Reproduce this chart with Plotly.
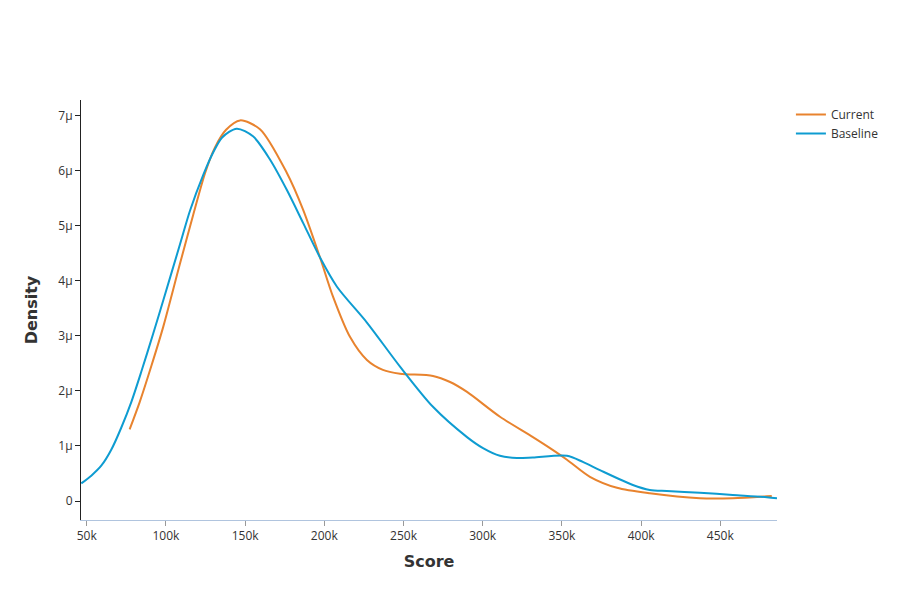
import plotly.graph_objects as go

# Baseline density curve (score in thousands, density in micro-units)
baseline_score_k = [46.6, 52.9, 59.2, 65.5, 71.8, 78.2, 84.5, 92.0, 98.4, 108.9, 115.2, 123.6,
                    129.9, 135.5, 144.7, 155.0, 165.7, 176.3, 186.6, 197.3, 208.0, 226.9,
                    247.8, 268.6, 290.1, 300.2, 310.9, 321.6, 331.7, 353.2, 363.2, 374.0,
                    394.8, 405.5, 416.2, 437.1, 457.9, 479.4, 485.8]
baseline_density_u = [0.32, 0.46, 0.64, 0.93, 1.33, 1.80, 2.35, 3.04, 3.65, 4.66, 5.27, 5.92,
                      6.33, 6.60, 6.76, 6.62, 6.20, 5.65, 5.05, 4.42, 3.89, 3.24,
                      2.44, 1.71, 1.16, 0.96, 0.82, 0.78, 0.79, 0.82, 0.71, 0.56,
                      0.29, 0.20, 0.18, 0.15, 0.11, 0.07, 0.05]

# Current density curve
current_score_k = [77.1, 83.5, 90.8, 98.4, 108.9, 117.3, 124.7, 131.0, 138.0, 146.8, 159.4,
                   176.3, 186.6, 197.3, 205.5, 216.2, 226.9, 237.0, 247.8, 268.6, 279.4,
                   290.1, 310.9, 331.7, 342.5, 353.2, 367.7, 384.8, 405.5, 437.1, 457.9, 482.5]
current_density_u = [1.30, 1.80, 2.45, 3.17, 4.31, 5.20, 5.95, 6.42, 6.74, 6.91, 6.75,
                     5.96, 5.29, 4.42, 3.71, 2.98, 2.56, 2.38, 2.31, 2.27, 2.16,
                     1.98, 1.53, 1.16, 0.96, 0.75, 0.44, 0.24, 0.14, 0.05, 0.05, 0.09]

series_names = ["Current", "Baseline"]
series_colors = ["#E8832E", "#0E9CD1"]

fig = go.Figure()
fig.add_trace(go.Scatter(
    x=[v * 1000 for v in current_score_k],
    y=[v * 1e-6 for v in current_density_u],
    mode="lines", name=series_names[0],
    line=dict(color=series_colors[0], width=2, shape="spline", smoothing=0.8),
))
fig.add_trace(go.Scatter(
    x=[v * 1000 for v in baseline_score_k],
    y=[v * 1e-6 for v in baseline_density_u],
    mode="lines", name=series_names[1],
    line=dict(color=series_colors[1], width=2, shape="spline", smoothing=0.8),
))

title_font = dict(family="DejaVu Sans, sans-serif", size=16, color="#333333", weight="bold")

fig.update_layout(
    width=900, height=600,
    margin=dict(l=81, r=123, t=100, b=80),
    paper_bgcolor="white", plot_bgcolor="white",
    font=dict(family="Open Sans, sans-serif", size=12, color="#333333"),
    legend=dict(x=1.02, y=1, xanchor="left", yanchor="top", font=dict(size=12, color="#333333")),
    xaxis=dict(
        title=dict(text="Score", font=title_font, standoff=12),
        range=[46400, 485800], showgrid=False, zeroline=False,
        showline=True, linecolor="#B0C4DE", linewidth=1,
        ticks="outside", tickcolor="#999999", ticklen=5,
        tickvals=[50000, 100000, 150000, 200000, 250000, 300000, 350000, 400000, 450000],
        ticktext=["50k", "100k", "150k", "200k", "250k", "300k", "350k", "400k", "450k"],
    ),
    yaxis=dict(
        title=dict(text="Density", font=title_font, standoff=16),
        range=[-0.345e-6, 7.28e-6], showgrid=False, zeroline=False,
        showline=True, linecolor="#222222", linewidth=1,
        ticks="outside", tickcolor="#222222", ticklen=5,
        tickvals=[0, 1e-6, 2e-6, 3e-6, 4e-6, 5e-6, 6e-6, 7e-6],
        ticktext=["0", "1µ", "2µ", "3µ", "4µ", "5µ", "6µ", "7µ"],
    ),
)

fig.write_html("out.html")
